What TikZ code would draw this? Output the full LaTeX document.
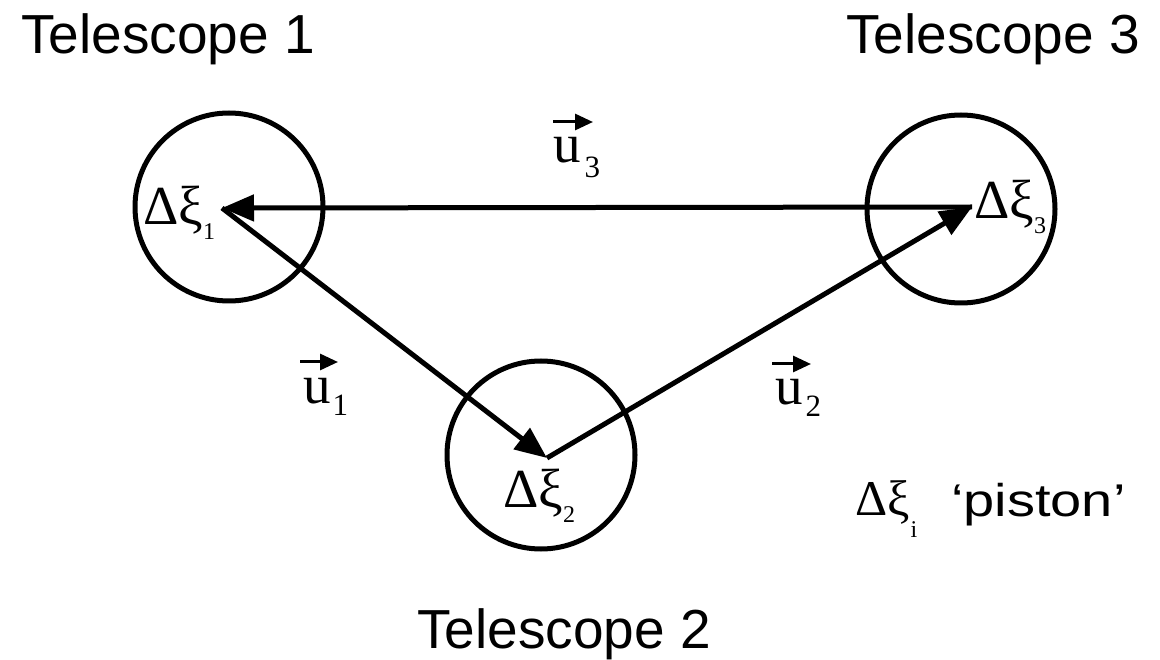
\documentclass[tikz,border=0pt]{standalone}
\usepackage{fontspec}
\setmainfont{Liberation Sans}
\newfontfamily\tms{Liberation Serif}
\usetikzlibrary{arrows.meta}
\begin{document}
\begin{tikzpicture}[x=1pt,y=-1pt,
  ring/.style={circle, draw, line width=5pt, minimum size=188pt, inner sep=0pt},
  link/.style={line width=5pt, -{Triangle[length=32pt,width=26pt]}},
  vecar/.style={line width=3pt, -{Triangle[length=18pt,width=16pt]}},
  tel/.style={font=\fontsize{55}{60}\selectfont, anchor=base west, inner sep=0pt},
  lab/.style={font=\tms\fontsize{55}{60}\selectfont, anchor=base west, inner sep=0pt},
  pis/.style={anchor=base west, inner sep=0pt}]
\useasboundingbox (0,0) rectangle (1160,660);
% telescopes
\node[ring] (t1) at (229,207) {};
\node[ring] (t2) at (541,455) {};
\node[ring] (t3) at (961,209) {};
\coordinate (p1) at (222,208);
\coordinate (p2) at (547,458);
\coordinate (p3) at (972,207);
\draw[link] (p3) -- (p1);
\draw[link] (p1) -- (p2);
\draw[link] (p2) -- (p3);
% titles
\node[tel] (n1) at (21,54) {Telescope 1};
\node[tel] (n3) at (846,54) {Telescope 3};
\node[tel] (n2) at (417,648) {Telescope 2};
% piston labels
\node[lab] (d1) at (143,225) {Δξ\kern0pt\raisebox{-15pt}{\fontsize{24}{24}\selectfont 1}};
\node[lab] (d2) at (503,507) {Δξ\kern0pt\raisebox{-15pt}{\fontsize{24}{24}\selectfont 2}};
\node[lab] (d3) at (974,219) {Δξ\kern0pt\raisebox{-15pt}{\fontsize{24}{24}\selectfont 3}};
% baseline vectors
\node[lab] (u1) at (303,403) {u\kern2pt\raisebox{-12pt}{\fontsize{31}{31}\selectfont 1}};
\node[lab] (u2) at (775,405) {u\kern3pt\raisebox{-12pt}{\fontsize{31}{31}\selectfont 2}};
\node[lab] (u3) at (553,163) {u\kern4pt\raisebox{-15pt}{\fontsize{31}{31}\selectfont 3}};
\draw[vecar] ([shift={(-3,-41)}]u1.base west) -- ([shift={(35,-41)}]u1.base west);
\draw[vecar] ([shift={(-3,-41)}]u2.base west) -- ([shift={(36,-41)}]u2.base west);
\draw[vecar] ([shift={(0,-41)}]u3.base west) -- ([shift={(40,-41)}]u3.base west);
% legend
\node[pis] (pd) at (855,515) {\tms\fontsize{50}{60}\selectfont Δξ\kern1pt\raisebox{-22pt}{\fontsize{24}{24}\selectfont i}};
\node[pis] (pt) at (951,516) {\scalebox{1}[0.82]{\fontsize{56}{60}\selectfont ‘piston’}};
\end{tikzpicture}
\end{document}
